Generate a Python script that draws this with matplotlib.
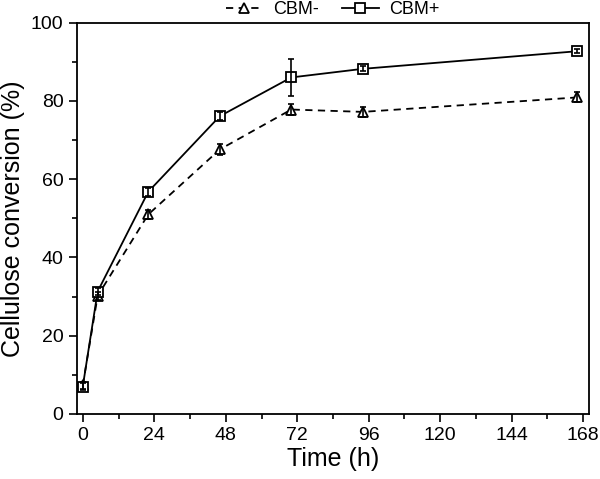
import matplotlib.pyplot as plt
from matplotlib.ticker import MultipleLocator

plt.rcParams["font.family"] = ["Liberation Sans", "DejaVu Sans"]

# sampling times (h) and conversions (%)
time = [0, 5, 22, 46, 70, 94, 166]
cbm_minus = [7.3, 30.2, 51.0, 67.6, 77.8, 77.2, 80.9]
cbm_minus_err = [0.8, 1.0, 1.2, 1.5, 1.5, 1.2, 1.3]
cbm_plus = [7.0, 31.3, 56.8, 76.1, 86.0, 88.2, 92.7]
cbm_plus_err = [0.9, 1.0, 1.0, 1.0, 4.7, 0.6, 0.5]

fig = plt.figure(figsize=(6, 4.79), dpi=100)
ax = fig.add_axes([0.128, 0.1357, 0.854, 0.817])

ax.plot(time, cbm_minus, color="k", lw=1.3, dashes=(4, 3), marker="^", ms=7.5,
        mfc="white", mec="k", mew=1.3, label="CBM-", zorder=2)
ax.plot(time, cbm_plus, color="k", lw=1.3, ls="-", marker="s", ms=6.5,
        mfc="white", mec="k", mew=1.3, label="CBM+", zorder=2)
ax.errorbar(time, cbm_minus, yerr=cbm_minus_err, fmt="none", ecolor="k",
            elinewidth=1.2, capsize=2.5, capthick=1.2, zorder=3)
ax.errorbar(time, cbm_plus, yerr=cbm_plus_err, fmt="none", ecolor="k",
            elinewidth=1.2, capsize=2.5, capthick=1.2, zorder=3)

ax.set_xlim(-2, 170)
ax.set_ylim(0, 100)
ax.xaxis.set_major_locator(MultipleLocator(24))
ax.xaxis.set_minor_locator(MultipleLocator(12))
ax.yaxis.set_major_locator(MultipleLocator(20))
ax.yaxis.set_minor_locator(MultipleLocator(10))
ax.tick_params(which="major", direction="out", length=6, width=1.2, labelsize=14)
ax.tick_params(which="minor", direction="out", length=3.5, width=1.2)
for s in ax.spines.values():
    s.set_linewidth(1.3)

ax.set_xlabel("Time (h)", fontsize=18, labelpad=2)
ax.set_ylabel("Cellulose conversion (%)", fontsize=18, labelpad=4)

ax.legend(loc="center", bbox_to_anchor=(0.5, 1.0 + 13 / 391), ncol=2, frameon=False,
          fontsize=13, handlelength=2.0, columnspacing=1.3, handletextpad=0.6,
          borderaxespad=0, borderpad=0)

fig.savefig("out.png", dpi=100)
